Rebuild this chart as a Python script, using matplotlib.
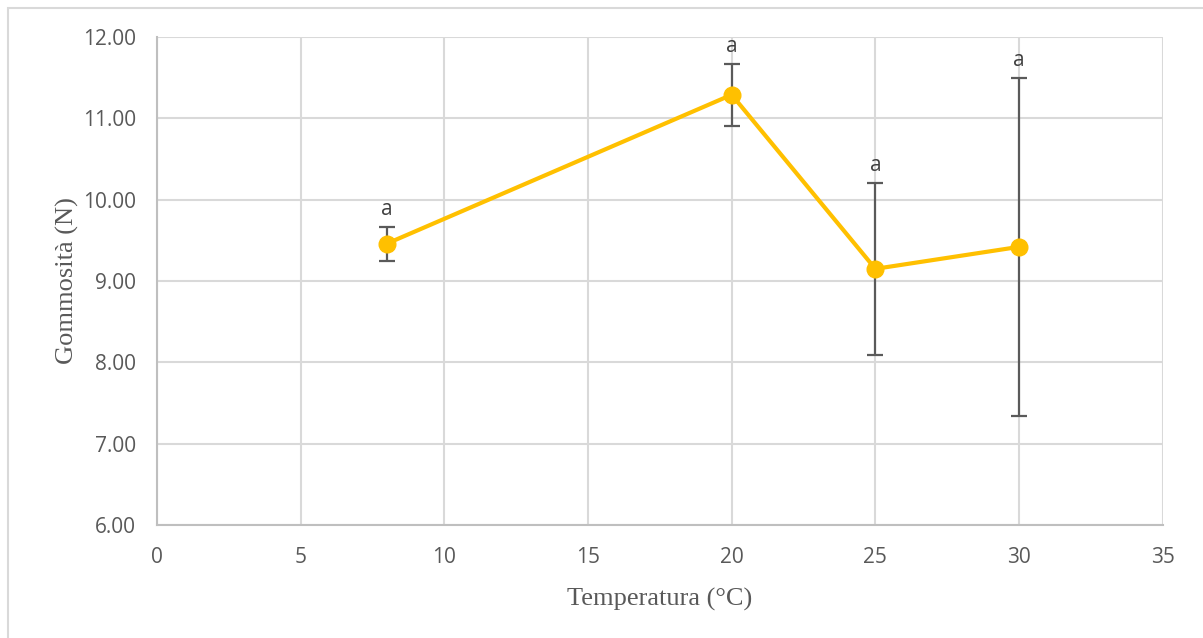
import matplotlib.pyplot as plt
from matplotlib.patches import Rectangle
from matplotlib.ticker import FormatStrFormatter

temperatura = [8, 20, 25, 30]
gommosita = [9.46, 11.29, 9.15, 9.42]
dev_std = [0.21, 0.38, 1.06, 2.08]
lettere = ['a', 'a', 'a', 'a']

giallo = '#FFC000'
grigio_testo = '#595959'
grigio_griglia = '#D9D9D9'

fig = plt.figure(figsize=(12.03, 6.38), dpi=100)
ax = fig.add_axes([0.1305, 0.177, 0.836, 0.765])

# cornice esterna del grafico (solo i bordi sinistro e superiore rientrano nell'immagine)
fig.patches.append(Rectangle((0.007, -0.1), 1.1, 1.087, transform=fig.transFigure,
                             fill=False, edgecolor=grigio_griglia, linewidth=1.5))

ax.errorbar(temperatura, gommosita, yerr=dev_std, fmt='none', ecolor='#5a5a5a',
            elinewidth=1.6, capsize=6, capthick=1.6, zorder=2)
ax.plot(temperatura, gommosita, color=giallo, linewidth=3, marker='o',
        markersize=12, zorder=3)

for x, y, e, lab in zip(temperatura, gommosita, dev_std, lettere):
    ax.annotate(lab, (x, y + e), xytext=(0, 5), textcoords='offset points',
                ha='center', va='bottom', fontsize=15, color='#404040', family='Open Sans')

ax.set_xlim(0, 35)
ax.set_ylim(6, 12)
ax.set_xticks(range(0, 36, 5))
ax.set_yticks(range(6, 13))
ax.yaxis.set_major_formatter(FormatStrFormatter('%.2f'))
ax.grid(True, color=grigio_griglia, linewidth=1.5)
ax.set_axisbelow(True)
for s in ['top', 'right']:
    ax.spines[s].set_visible(False)
for s in ['left', 'bottom']:
    ax.spines[s].set_color('#BFBFBF')
    ax.spines[s].set_linewidth(1.5)
ax.tick_params(length=0, labelsize=15, labelcolor=grigio_testo)
ax.tick_params(axis='y', pad=15)
ax.tick_params(axis='x', pad=16)
for t in ax.get_xticklabels() + ax.get_yticklabels():
    t.set_family('Open Sans')

ax.set_xlabel('Temperatura (°C)', family='Liberation Serif', fontsize=19,
              color=grigio_testo, labelpad=14)
ax.set_ylabel('Gommosità (N)', family='Liberation Serif', fontsize=19,
              color=grigio_testo, labelpad=3)

fig.savefig('out.png', dpi=100)
